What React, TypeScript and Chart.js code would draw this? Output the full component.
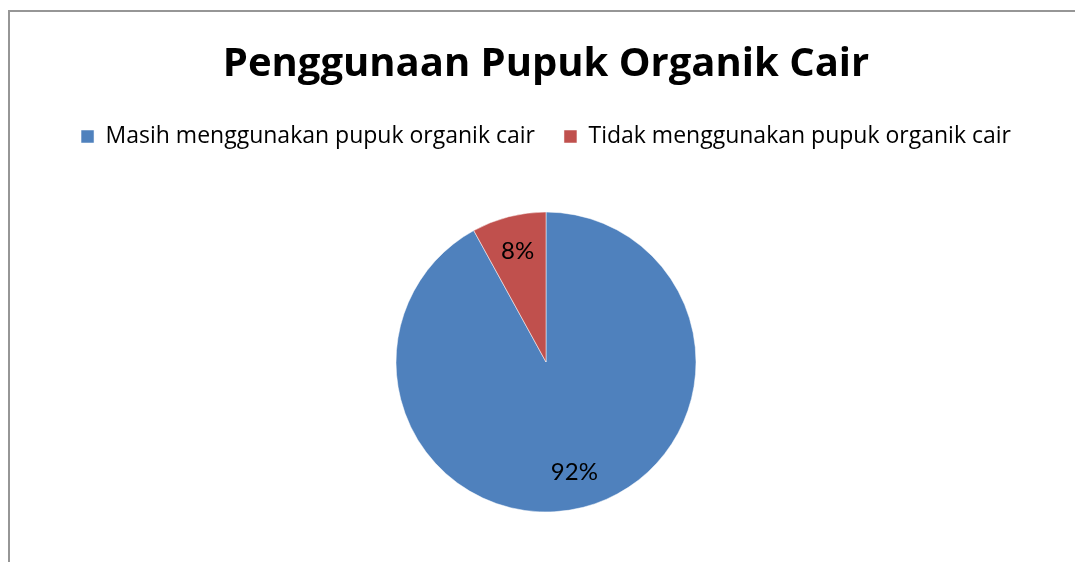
import React, { useEffect, useRef } from "react";
import { Chart, registerables } from "chart.js";

Chart.register(...registerables);

const TITLE = "Penggunaan Pupuk Organik Cair";
const categories = ["Masih menggunakan pupuk organik cair", "Tidak menggunakan pupuk organik cair"];
const values = [92, 8];
const valueLabels = ["92%", "8%"];
const colors = ["#4F81BD", "#C0504D"];

const labelPlugin = {
  id: "sliceLabels",
  afterDatasetsDraw(chart: any) {
    const ctx = chart.ctx;
    const meta = chart.getDatasetMeta(0);
    ctx.save();
    ctx.font = "24px Lato";
    ctx.fillStyle = "#000";
    ctx.textAlign = "center";
    ctx.textBaseline = "middle";
    meta.data.forEach((arc: any, i: number) => {
      const p = arc.getProps(["x", "y", "startAngle", "endAngle", "outerRadius"], true);
      const mid = (p.startAngle + p.endAngle) / 2;
      const r = p.outerRadius * 0.76;
      ctx.fillText(valueLabels[i], p.x + Math.cos(mid) * r, p.y + Math.sin(mid) * r);
    });
    ctx.restore();
  },
};

export default function App() {
  const ref = useRef<HTMLCanvasElement>(null);
  useEffect(() => {
    if (!ref.current) return;
    const chart = new Chart(ref.current, {
      type: "pie",
      data: {
        labels: categories,
        datasets: [
          {
            data: values,
            backgroundColor: colors,
            borderColor: "#ffffff",
            borderWidth: 0.5,
            radius: 150,
          } as any,
        ],
      },
      options: {
        animation: false,
        responsive: false,
        layout: { padding: { left: 17, right: 0, top: 0, bottom: 4 } },
        plugins: {
          title: {
            display: true,
            text: TITLE,
            color: "#000",
            font: { family: "Open Sans", size: 40, weight: "bold" },
            padding: { top: 41, bottom: 7 },
          },
          legend: {
            display: true,
            position: "top",
            labels: {
              color: "#000",
              font: { family: "Open Sans", size: 23 },
              boxWidth: 13,
              boxHeight: 13,
              padding: 29,
            },
          },
          tooltip: { enabled: false },
        },
      },
      plugins: [labelPlugin],
    });
    return () => chart.destroy();
  }, []);
  return (
    <div style={{ position: "fixed", left: 0, top: 0, width: 1075, height: 562, overflow: "hidden", background: "#fff" }}>
      <div
        style={{
          position: "absolute",
          left: 8,
          top: 10,
          width: 1200,
          height: 1000,
          borderTop: "2px solid #969696",
          borderLeft: "2px solid #969696",
        }}
      />
      <canvas ref={ref} width={1075} height={570} style={{ position: "absolute", left: 0, top: 0 }} />
    </div>
  );
}
